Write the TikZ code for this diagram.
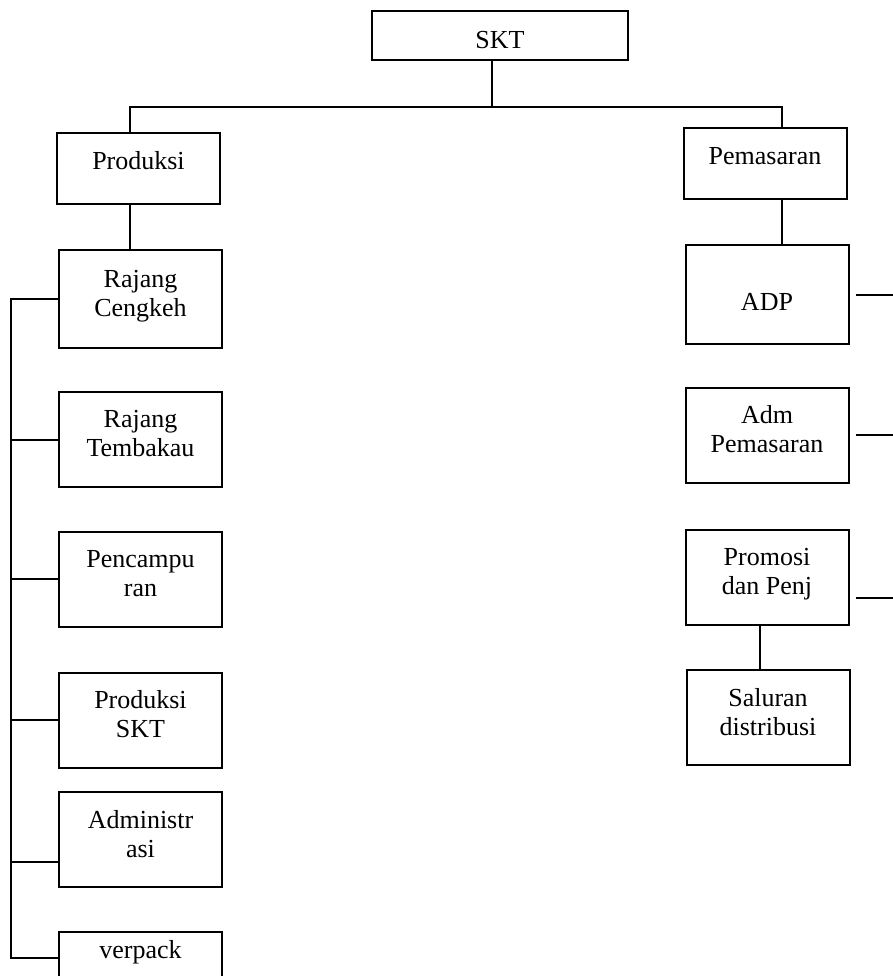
\documentclass[tikz,border=0pt]{standalone}
\usepackage{fontspec}
\setmainfont{Liberation Serif}
\begin{document}
\begin{tikzpicture}[x=0.5pt,y=-0.5pt,
        garis/.style={line width=1pt},
        kotak/.style={draw,line width=1pt,align=center,inner sep=0pt,
            minimum width=81.5pt,minimum height=47.5pt,text depth=6pt,
            font=\fontsize{13pt}{14.5pt}\selectfont}]
        \useasboundingbox (0,0) rectangle (893,976);
        \node[kotak,minimum width=128pt,minimum height=24.5pt,text depth=0pt,text height=12.5pt] (skt) at (500,35.5) {SKT};
        \node[kotak,minimum height=35.5pt,text depth=8pt] (produksi) at (138.5,168.5) {Produksi};
        \node[kotak,minimum height=35.5pt,text depth=8pt] (pemasaran) at (765,163.5) {Pemasaran};
        \node[kotak,minimum height=49pt] (cengkeh) at (140.5,299) {Rajang\\Cengkeh};
        \node[kotak] (tembakau) at (140.5,439.5) {Rajang\\Tembakau};
        \node[kotak] (campur) at (140.5,579) {Pencampu\\ran};
        \node[kotak] (prodskt) at (140.5,720) {Produksi\\SKT};
        \node[kotak] (admin) at (140.5,839.5) {Administr\\asi};
        \node[kotak,anchor=north,minimum height=0pt,inner ysep=4pt,text depth=20pt] (verpack) at (140.5,931) {verpack};
        \node[kotak,minimum height=49.5pt,text depth=0pt,text height=16pt] (adp) at (767,294.5) {ADP};
        \node[kotak] (admpem) at (767,435) {Adm\\Pemasaran};
        \node[kotak] (promosi) at (767,577.5) {Promosi\\dan Penj};
        \node[kotak] (saluran) at (768,717.5) {Saluran\\distribusi};
        \coordinate (tengah) at (492,107);
        \coordinate (kiri) at (130,107);
        \coordinate (kanan) at (782,107);
        \coordinate (bawah) at (760,0);
        \coordinate (tepi) at (893,0);
        \draw[garis] (skt.south -| tengah) -- (tengah);
        \draw[garis] (kiri |- produksi.north) -- (kiri) -- (kanan) -- (kanan |- pemasaran.north);
        \draw[garis] (kiri |- produksi.south) -- (kiri |- cengkeh.north);
        \draw[garis] (kanan |- pemasaran.south) -- (kanan |- adp.north);
        \draw[garis] (bawah |- promosi.south) -- (bawah |- saluran.north);
        \draw[garis] (cengkeh.west) -- ++(-47,0) |- (verpack.base west);
        \foreach \n in {tembakau,campur,prodskt}
            \draw[garis] (\n.west) -- ++(-48,0);
        \draw[garis] ([yshift=-11pt]admin.west) -- ++(-48,0);
        \coordinate (pj) at ([yshift=-10pt]promosi.east);
        \foreach \n in {adp,admpem,pj}
            \draw[garis] ([xshift=3pt]\n.east) -- (\n.east -| tepi);
\end{tikzpicture}
\end{document}
